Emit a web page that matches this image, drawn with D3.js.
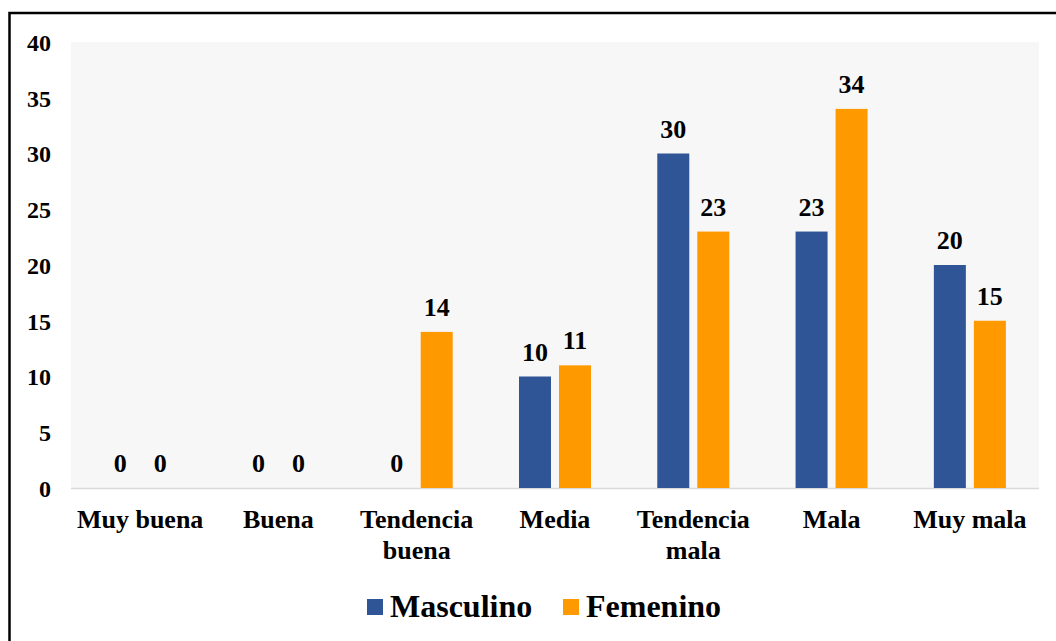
<!DOCTYPE html>
<html>
<head>
<meta charset="utf-8">
<script src="https://cdn.jsdelivr.net/npm/d3@7"></script>
<style>
  body { margin: 0; background: #fff; }
  text { font-family: "Liberation Serif", "Times New Roman", serif; font-weight: bold; fill: #000; }
</style>
</head>
<body>
<div id="chart"></div>
<script>
const WIDTH = 1056;
const HEIGHT = 641;

// data
const categories = [["Muy buena"], ["Buena"], ["Tendencia", "buena"], ["Media"], ["Tendencia", "mala"], ["Mala"], ["Muy mala"]];
const catKeys = categories.map(c => c.join(" "));
const series = ["Masculino", "Femenino"];
const masculino = [0, 0, 0, 10, 30, 23, 20];
const femenino = [0, 0, 14, 11, 23, 34, 15];
const yTicks = [0, 5, 10, 15, 20, 25, 30, 35, 40];
const colors = { Masculino: "#2f5597", Femenino: "#ff9900" };

const plot = { left: 71, right: 1039, top: 42, bottom: 488 };

const svg = d3.select("#chart").append("svg")
  .attr("width", WIDTH)
  .attr("height", HEIGHT);

// outer frame (cut off at right and bottom)
svg.append("rect")
  .attr("x", 9.5).attr("y", 13)
  .attr("width", WIDTH + 20).attr("height", HEIGHT + 20)
  .attr("fill", "none").attr("stroke", "#000").attr("stroke-width", 2.5);

svg.append("rect")
  .attr("x", plot.left).attr("y", plot.top)
  .attr("width", plot.right - plot.left).attr("height", plot.bottom - plot.top)
  .attr("fill", "#f7f7f7");

let x0 = d3.scaleBand().domain(catKeys).range([plot.left, plot.right]);
let x1 = d3.scaleBand().domain(series).range([0, 72]).paddingInner(0.2);
let y = d3.scaleLinear().domain([0, 40]).range([plot.bottom, plot.top]);

// y axis
let yAxis = d3.axisLeft(y).tickValues(yTicks).tickSize(0).tickPadding(20);
let gy = svg.append("g")
  .attr("transform", "translate(" + plot.left + ",0)")
  .call(yAxis);
gy.select(".domain").remove();
gy.selectAll("text")
  .style("font-size", "24px")
  .style("font-family", "Liberation Serif")
  .attr("dy", "0.35em");

// x axis baseline
svg.append("line")
  .attr("x1", plot.left).attr("x2", plot.right)
  .attr("y1", y(0) + 0.5).attr("y2", y(0) + 0.5)
  .attr("stroke", "#d9d9d9").attr("stroke-width", 1.5);

// category labels
categories.forEach((c, i) => {
  let t = svg.append("text")
    .attr("x", x0(catKeys[i]) + x0.bandwidth() / 2)
    .attr("y", 528)
    .attr("text-anchor", "middle")
    .style("font-size", "26px");
  c.forEach((line, j) => {
    t.append("tspan")
      .attr("x", x0(catKeys[i]) + x0.bandwidth() / 2)
      .attr("dy", j == 0 ? 0 : 31)
      .text(line);
  });
});

const values = { Masculino: masculino, Femenino: femenino };
const offset = (x0.bandwidth() - 72) / 2;

series.forEach(s => {
  let g = svg.append("g");
  values[s].forEach((v, i) => {
    let bx = x0(catKeys[i]) + offset + x1(s);
    if (v > 0) {
      g.append("rect")
        .attr("x", bx)
        .attr("y", y(v))
        .attr("width", x1.bandwidth())
        .attr("height", y(0) - y(v))
        .attr("fill", colors[s]);
    }
    g.append("text")
      .attr("x", bx + x1.bandwidth() / 2)
      .attr("y", y(v) - 16)
      .attr("text-anchor", "middle")
      .style("font-size", "26px")
      .text(v);
  });
});

// legend
let legend = svg.append("g");
let lx = [367, 563];
series.forEach((s, i) => {
  legend.append("rect")
    .attr("x", lx[i]).attr("y", 599)
    .attr("width", 16).attr("height", 16)
    .attr("fill", colors[s]);
  legend.append("text")
    .attr("x", lx[i] + 23).attr("y", 617)
    .style("font-size", "32px")
    .text(s);
});
</script>
</body>
</html>
